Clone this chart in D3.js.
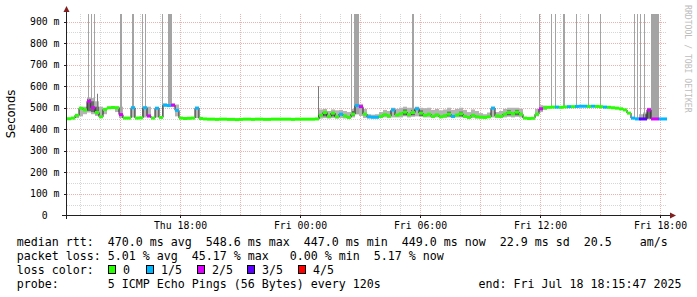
<!DOCTYPE html>
<html><head><meta charset="utf-8">
<script src="https://cdn.jsdelivr.net/npm/d3@7"></script>
<style>
body{margin:0;background:#fff}
svg{display:block}
text{font-family:"DejaVu Sans Mono",monospace;fill:#000}
</style>
</head><body>
<svg id="c" width="697" height="297"></svg>
<script>
// ---------- data ----------
const startTime = Date.UTC(2025, 6, 17, 12, 21, 0);
const endTime   = Date.UTC(2025, 6, 18, 18, 21, 0);
const stepMinutes = 12;
const yMax = 935;

// median rtt (ms), one value every 12 minutes
const rtt = [
 449,452,465,498,490,530,500,478,458,492,
 500,501,500,468,452,452,500,452,453,500,
 462,452,498,455,512,510,512,488,452,450,
 451,452,498,450,448,447,447,446,447,447,
 446,446,445,446,447,447,446,447,447,446,
 446,447,447,447,447,447,446,447,447,447,
 447,447,448,465,478,460,475,458,470,462,
 455,470,510,505,470,458,456,456,460,468,
 462,490,466,472,480,468,478,495,475,465,
 470,460,467,458,463,470,460,466,472,460,
 455,465,458,456,455,458,498,462,460,470,
 478,472,480,470,452,450,451,470,495,500,
 502,503,503,502,504,505,505,506,507,507,
 506,507,506,505,503,502,500,498,495,490,
 475,452,448,448,448,490,448,448,448,448
];
// lost pings out of 5 for each step
const loss = [
 0,0,0,0,0,2,2,0,0,0,
 0,0,0,2,0,0,1,0,0,1,
 2,0,1,0,1,1,2,1,0,0,
 0,0,1,0,0,0,0,0,0,0,
 0,0,0,0,0,0,0,0,0,0,
 0,0,0,0,0,0,0,0,0,0,
 0,0,0,0,0,0,0,0,1,0,
 0,0,1,2,0,1,1,1,0,0,
 0,1,0,0,0,0,0,1,0,0,
 0,0,0,0,0,0,1,0,0,0,
 0,0,0,0,0,0,1,0,0,0,
 0,0,0,0,0,0,0,0,2,0,
 0,0,1,0,0,1,0,1,1,1,
 0,1,0,0,1,0,0,0,0,0,
 0,1,1,3,3,2,2,2,1,1
];
// smoke ranges [step index, low ms, high ms]
const smokeLight = [
 [1,450,455],[2,452,470],[3,460,500],[4,470,505],[5,478,548],[6,470,545],[7,462,530],[8,452,505],[9,470,500],
 [12,480,505],[13,452,505],[16,455,505],[19,455,505],[20,455,505],[22,455,502],[24,505,520],[25,505,518],
 [26,505,520],[27,460,515],[32,452,505],
 [63,450,492],[64,452,495],[65,450,485],[66,452,492],[67,450,488],[68,452,490],[69,450,485],[70,450,480],
 [71,455,495],[72,470,520],[73,462,518],[74,452,495],[75,450,470],[76,450,468],[77,450,470],[78,452,480],
 [79,455,490],[80,452,485],[81,455,500],[82,455,495],[83,455,500],[84,460,505],[85,455,500],[86,458,500],
 [87,460,505],[88,458,500],[89,455,498],[90,455,500],[91,452,490],[92,455,495],[93,452,488],[94,452,492],
 [95,455,500],[96,452,490],[97,455,495],[98,455,500],[99,452,490],[100,450,480],[101,452,492],[102,450,485],
 [103,450,475],[104,450,470],[105,452,478],[106,455,505],[107,452,480],[108,452,485],[109,455,495],
 [110,458,500],[111,455,500],[112,458,500],[113,455,495],[117,460,495],[118,480,512],[119,490,510],
 [142,446,455],[143,446,470],[144,446,478],[145,446,500],[146,446,470]
];
const smokeDark = [
 [5,485,540],[6,480,530],[7,470,505],[64,460,482],[66,460,478],[71,462,485],[72,490,515],[84,465,492],
 [86,465,490],[88,462,488],[95,460,482],[98,460,482],[110,465,488],[112,465,490],[144,448,470],[145,450,495]
];
// tall single-ping outliers: start (minutes after start), duration (minutes), top (ms)
const spikeStart = [63,72,81,90,159,195,225,234,285,303,753,852,861,1035,1416,1452,1464,1488,1527,1563,1599,1701,1710,1719,1731,1752];
const spikeDur   = [3,3,3,3,6,6,3,3,3,12,3,3,15,6,3,3,3,6,3,3,3,3,3,3,3,24];
const spikeTop   = [935,935,935,565,935,935,935,935,935,935,600,935,935,935,935,935,935,935,935,935,935,935,935,935,935,935];

const yTicks = [0,100,200,300,400,500,600,700,800,900];
const xTickTimes = [Date.UTC(2025,6,17,18), Date.UTC(2025,6,18,0), Date.UTC(2025,6,18,6), Date.UTC(2025,6,18,12), Date.UTC(2025,6,18,18)];
const xTickLabels = ["Thu 18:00","Fri 00:00","Fri 06:00","Fri 12:00","Fri 18:00"];

const lossLabels = ["0","1/5","2/5","3/5","4/5"];
const lossColors = ["#26ff00","#00b8ff","#dd00ff","#5e00ff","#ff0000"];

const legendRtt  = ["median rtt:","470.0 ms avg","548.6 ms max","447.0 ms min","449.0 ms now","22.9 ms sd","20.5","am/s"];
const legendLoss = ["packet loss:","5.01 % avg","45.17 % max","0.00 % min","5.17 % now"];
const probeText = ["probe:","5 ICMP Echo Pings (56 Bytes) every 120s"];
const endText = "end: Fri Jul 18 18:15:47 2025";

// ---------- layout ----------
const charW = 7, textX0 = 16.7;
const rttCols  = [0,13,27,41,55,69,81,89];
const lossCols = [0,13,25,39,51];
const probeCols = [0,13];
const swatchX = [108,146,197,247,298];

const svg = d3.select("#c");
const x = d3.scaleUtc().domain([startTime, endTime]).range([67, 667]);
const y = d3.scaleLinear().domain([0, yMax]).range([215.5, 14]);
const cx = v => Math.round(v) + 0.5;
const t = i => startTime + i * stepMinutes * 60000;

// grid
const g = svg.append("g");
d3.utcHour.range(new Date(startTime), new Date(endTime)).forEach(h => {
  const major = h.getUTCHours() % 3 === 0;
  g.append("line").attr("x1", cx(x(h))).attr("x2", cx(x(h))).attr("y1", 14).attr("y2", 215)
    .attr("stroke", major ? "rgba(224,80,80,0.45)" : "rgba(128,128,128,0.32)").attr("stroke-dasharray", "1,1");
});
d3.range(50, 901, 50).forEach(v => {
  const major = v % 100 === 0;
  g.append("line").attr("x1", 67).attr("x2", 667).attr("y1", cx(y(v))).attr("y2", cx(y(v)))
    .attr("stroke", major ? "rgba(224,80,80,0.45)" : "rgba(128,128,128,0.32)").attr("stroke-dasharray", "1,1");
});

// smoke
const stepW = x(t(1)) - x(t(0));
svg.append("g").selectAll("rect").data(smokeLight).join("rect")
  .attr("x", d => x(t(d[0]))).attr("width", stepW)
  .attr("y", d => y(d[2])).attr("height", d => y(d[1]) - y(d[2]))
  .attr("fill", "#b4b4b4");
svg.append("g").selectAll("rect").data(smokeDark).join("rect")
  .attr("x", d => x(t(d[0]))).attr("width", stepW)
  .attr("y", d => y(d[2])).attr("height", d => y(d[1]) - y(d[2]))
  .attr("fill", "#6a6a6a");

// spikes
svg.append("g").selectAll("rect").data(spikeStart.map((s, i) => i)).join("rect")
  .attr("x", i => x(startTime + spikeStart[i] * 60000))
  .attr("width", i => x(startTime + (spikeStart[i] + spikeDur[i]) * 60000) - x(startTime + spikeStart[i] * 60000))
  .attr("y", i => y(spikeTop[i]))
  .attr("height", i => y(rtt[Math.floor(spikeStart[i] / stepMinutes)]) - y(spikeTop[i]))
  .attr("fill", i => spikeTop[i] < yMax ? "#7a7a7a" : "#a4a4a4");

// median line
const pts = rtt.map((v, i) => [t(i), v]).concat([[endTime, rtt[rtt.length - 1]]]);
svg.append("path").datum(pts)
  .attr("d", d3.line().x(d => x(d[0])).y(d => y(d[1])).curve(d3.curveStepAfter))
  .attr("fill", "none").attr("stroke", "#202020").attr("stroke-width", 1);
svg.append("g").selectAll("rect").data(rtt).join("rect")
  .attr("x", (d, i) => x(t(i))).attr("width", stepW)
  .attr("y", d => y(d) - 1.5).attr("height", 3)
  .attr("fill", (d, i) => lossColors[loss[i]]);

// axes
const axisCol = "#202020";
svg.append("line").attr("x1", 66.5).attr("x2", 66.5).attr("y1", 219).attr("y2", 11).attr("stroke", axisCol);
svg.append("line").attr("x1", 62).attr("x2", 671).attr("y1", 215.5).attr("y2", 215.5).attr("stroke", axisCol);
svg.append("path").attr("d", "M63.5,12 L69.5,12 L66.5,6 Z").attr("fill", "#7f1f1f");
svg.append("path").attr("d", "M670,212.5 L670,218.5 L676,215.5 Z").attr("fill", "#7f1f1f");
yTicks.forEach(v => {
  if (v > 0) svg.append("line").attr("x1", 64).attr("x2", 66).attr("y1", cx(y(v))).attr("y2", cx(y(v))).attr("stroke", axisCol);
  svg.append("text").attr("x", v === 0 ? 59.5 - 11.8 : 59.5).attr("y", y(v) + 3.5)
    .attr("text-anchor", "end").style("font-size", "9.8px").text(v === 0 ? "0" : v + " m");
});
xTickTimes.forEach((tt, i) => {
  svg.append("line").attr("x1", cx(x(tt))).attr("x2", cx(x(tt))).attr("y1", 216).attr("y2", 218).attr("stroke", axisCol);
  svg.append("text").attr("x", x(tt) + 0.5).attr("y", 228.5).attr("text-anchor", "middle")
    .style("font-size", "9.8px").text(xTickLabels[i]);
});

// y title
svg.append("text").attr("transform", "translate(15,114) rotate(-90)").attr("text-anchor", "middle")
  .style("font-family", "'DejaVu Sans',sans-serif").style("font-size", "11.6px").text("Seconds");
// watermark
svg.append("text").attr("transform", "translate(685,5) rotate(90)")
  .style("font-size", "8.15px").style("fill", "#bdbdbd").text("RRDTOOL / TOBI OETIKER");

// legend
const leg = svg.append("g").style("font-size", "11.63px");
const row = (items, cols, yb) => items.forEach((s, i) =>
  leg.append("text").attr("x", textX0 + cols[i] * charW).attr("y", yb).text(s));
row(legendRtt, rttCols, 245.5);
row(legendLoss, lossCols, 259.5);
leg.append("text").attr("x", textX0).attr("y", 273.5).text("loss color:");
lossLabels.forEach((l, i) => {
  leg.append("rect").attr("x", swatchX[i] + 0.5).attr("y", 265.5).attr("width", 7).attr("height", 8)
    .attr("fill", lossColors[i]).attr("stroke", "#000");
  leg.append("text").attr("x", swatchX[i] + 15).attr("y", 273.5).text(l);
});
row(probeText, probeCols, 287.5);
leg.append("text").attr("x", 681.5).attr("y", 287.5).attr("text-anchor", "end").text(endText);
</script>
</body></html>
